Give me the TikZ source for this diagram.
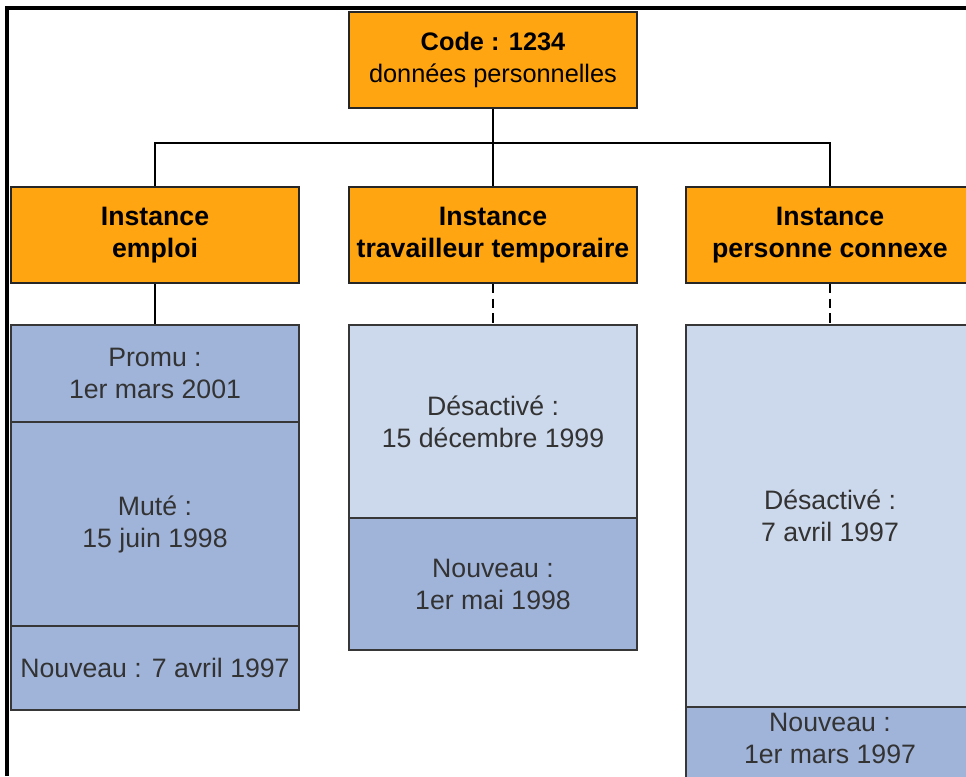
\documentclass[tikz,border=0pt]{standalone}
\usepackage{fontspec}
\setmainfont{Liberation Sans}
\usetikzlibrary{positioning}
\definecolor{boxOrange}{RGB}{255, 165, 17}
\definecolor{cellDark}{RGB}{160, 180, 218}
\definecolor{cellLight}{RGB}{204, 216, 235}
\definecolor{lineGray}{RGB}{55, 55, 55}

\begin{document}
\begin{tikzpicture}[x=0.75pt, y=-0.75pt,
        font=\fontsize{20}{24}\selectfont,
        hdr/.style={rectangle, draw=black!85, line width=1.6pt, fill=boxOrange, minimum width=216pt,
            minimum height=72pt, inner sep=0pt, align=center, font=\fontsize{20}{24}\selectfont\bfseries},
        cell/.style={rectangle, draw=lineGray, line width=1.6pt, minimum width=216pt, inner sep=0pt,
            align=center, text=black!80},
        link/.style={line width=1.8pt, black},
        frame/.style={line width=2.6pt, black}
    ]
    \useasboundingbox (0,0) rectangle (966,776);
    \clip (0,0) rectangle (966,776);
    \draw[frame] (7,776) -- (7,8) -- (966,8);
    % top and instances
    \node[hdr, font=\fontsize{19}{24}\selectfont] (code) at (493,60) {\textbf{Code : 1234}\\données personnelles};
    \node[hdr] (empl) at (155,235) {Instance\\emploi};
    \node[hdr] (temp) at (493,235) {Instance\\travailleur temporaire};
    \node[hdr] (conn) at (830,235) {Instance\\personne connexe};
    \coordinate (bus) at (493,143);
    \draw[link] (code) -- (bus);
    \draw[link] (bus) -| (empl);
    \draw[link] (bus) -- (temp);
    \draw[link] (bus) -| (conn);
    % history cells
    \node[cell, fill=cellDark, minimum height=72.75pt] (promu) at (155,373.5) {Promu :\\1er mars 2001};
    \node[cell, fill=cellDark, minimum height=153pt] (mute) at (155,524) {Muté :\\15 juin 1998};
    \node[cell, fill=cellDark, minimum height=63pt] (enouv) at (155,668) {Nouveau : 7 avril 1997};
    \node[cell, fill=cellLight, minimum height=144.75pt] (tdes) at (493,421.5) {Désactivé :\\15 décembre 1999};
    \node[cell, fill=cellDark, minimum height=99pt] (tnouv) at (493,584) {Nouveau :\\1er mai 1998};
    \node[cell, fill=cellLight, minimum height=286.5pt] (cdes) at (830,516) {Désactivé :\\7 avril 1997};
    \node[cell, fill=cellDark, minimum height=69.75pt] (cnouv) at (830,753.5) {Nouveau :\\1er mars 1997\rule[-22.5pt]{0pt}{0pt}};
    \draw[link] (empl) -- (promu);
    \draw[link, dash pattern=on 7pt off 4pt] (temp) -- (tdes);
    \draw[link, dash pattern=on 7pt off 4pt] (conn) -- (cdes);
\end{tikzpicture}
\end{document}
